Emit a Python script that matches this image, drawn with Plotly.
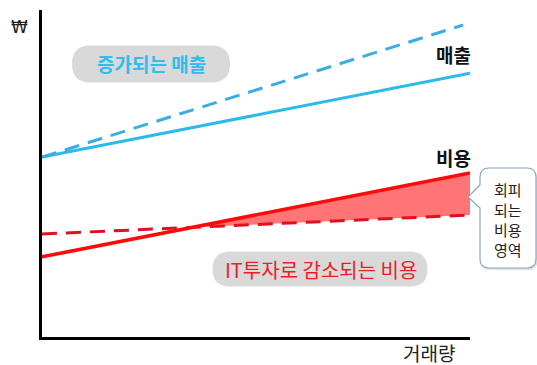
import numpy as np
import plotly.graph_objects as go

# ---- data (conceptual chart, arbitrary units) ----
x_line = [0, 100]
x_rev_it = [0, 98.4]
revenue_base = [55.0, 80.7]      # 매출 (solid)
revenue_it = [55.0, 95.4]        # 증가되는 매출 (dashed)
cost_base = [24.5, 50.2]         # 비용 (solid)
cost_it = [31.5, 37.3]           # IT투자로 감소되는 비용 (dashed)
callout_lines = ["회피", "되는", "비용", "영역"]

FONT = "Noto Sans CJK KR"
CYAN = "#2cbbe9"
CYAN_D = "#3aaee3"
RED = "#ff0a0a"
RED_D = "#e01020"

# intersection of the two cost lines
sb = (cost_base[1] - cost_base[0]) / (x_line[1] - x_line[0])
si = (cost_it[1] - cost_it[0]) / (x_line[1] - x_line[0])
xi = (cost_it[0] - cost_base[0]) / (sb - si)
yi = cost_base[0] + sb * xi

fig = go.Figure()
fig.add_trace(go.Scatter(
    x=[xi, x_line[1], x_line[1], xi],
    y=[yi, cost_base[1], cost_it[1], yi],
    fill="toself", fillcolor="#ff7474", line=dict(width=0), mode="lines",
    hoverinfo="skip"))
fig.add_trace(go.Scatter(x=x_line, y=revenue_base, mode="lines",
                         line=dict(color=CYAN, width=3)))
fig.add_trace(go.Scatter(x=x_rev_it, y=revenue_it, mode="lines",
                         line=dict(color=CYAN_D, width=3, dash="15px,9px")))
fig.add_trace(go.Scatter(x=x_line, y=cost_it, mode="lines",
                         line=dict(color=RED_D, width=3, dash="15px,9px")))
fig.add_trace(go.Scatter(x=x_line, y=cost_base, mode="lines",
                         line=dict(color=RED, width=3.5)))

W, H = 537, 365
L, R, T, B = 42, 67, 10, 28
pw, ph = W - L - R, H - T - B


def px(xp):
    return (xp - L) / pw


def py(yp):
    return (H - B - yp) / ph


def rrect(w, h, r):
    x0, x1, y0, y1 = -w / 2, w / 2, -h / 2, h / 2
    return (f"M{x0 + r},{y0} L{x1 - r},{y0} Q{x1},{y0} {x1},{y0 + r} "
            f"L{x1},{y1 - r} Q{x1},{y1} {x1 - r},{y1} L{x0 + r},{y1} "
            f"Q{x0},{y1} {x0},{y1 - r} L{x0},{y0 + r} Q{x0},{y0} {x0 + r},{y0} Z")


shapes = []
# pills
for cx, cy, w, h in [(151, 64, 158, 37), (320, 269, 215, 35)]:
    shapes.append(dict(type="path", xref="paper", yref="paper",
                       xsizemode="pixel", ysizemode="pixel",
                       xanchor=px(cx), yanchor=py(cy), path=rrect(w, h, h / 2),
                       fillcolor="#d9d9d9", line=dict(width=0), layer="below"))

# callout box with pointer (pixel offsets, y upward)
cx, cy = 508, 218
hw, hh, r = 28, 50, 9


def callout(dx=0, dy=0):
    x0, x1, y0, y1 = -hw + dx, hw + dx, -hh + dy, hh + dy
    return (f"M{x0 + r},{y1} L{x1 - r},{y1} Q{x1},{y1} {x1},{y1 - r} "
            f"L{x1},{y0 + r} Q{x1},{y0} {x1 - r},{y0} L{x0 + r},{y0} "
            f"Q{x0},{y0} {x0},{y0 + r} L{x0},{10 + dy} L{-40 + dx},{21 + dy} "
            f"L{x0},{33 + dy} L{x0},{y1 - r} Q{x0},{y1} {x0 + r},{y1} Z")


shapes.append(dict(type="path", xref="paper", yref="paper",
                   xsizemode="pixel", ysizemode="pixel",
                   xanchor=px(cx), yanchor=py(cy), path=callout(1.5, -2),
                   fillcolor="rgba(0,0,0,0.12)", line=dict(width=0)))
shapes.append(dict(type="path", xref="paper", yref="paper",
                   xsizemode="pixel", ysizemode="pixel",
                   xanchor=px(cx), yanchor=py(cy), path=callout(),
                   fillcolor="white", line=dict(color="#8aa6c4", width=1.2)))

ann = [
    dict(x=px(151), y=py(63), text="<b>증가되는 매출</b>", font=dict(size=19, color="#30bdec")),
    dict(x=px(321), y=py(269), text="IT투자로 감소되는 비용", font=dict(size=20, color="#ee1c25")),
    dict(x=px(453), y=py(54), text="<b>매출</b>", font=dict(size=19, color="#111")),
    dict(x=px(453), y=py(157), text="<b>비용</b>", font=dict(size=19, color="#111")),
    dict(x=px(19), y=py(27), text="₩", font=dict(size=17, color="#222", family="DejaVu Sans")),
    dict(x=px(429), y=py(352), text="거래량", font=dict(size=19, color="#222")),
]
for txt, yy in zip(callout_lines, [189.5, 209.5, 229.5, 249.5]):
    ann.append(dict(x=px(508), y=py(yy), text=txt, font=dict(size=15, color="#222")))
for a in ann:
    a.update(xref="paper", yref="paper", showarrow=False, xanchor="center", yanchor="middle")

fig.update_layout(
    width=W, height=H, margin=dict(l=L, r=R, t=T, b=B),
    plot_bgcolor="white", paper_bgcolor="white",
    showlegend=False, shapes=shapes, annotations=ann,
    font=dict(family=FONT),
    xaxis=dict(range=[0, 100], showgrid=False, zeroline=False, showticklabels=False,
               ticks="", showline=True, linecolor="black", linewidth=3),
    yaxis=dict(range=[0, 100], showgrid=False, zeroline=False, showticklabels=False,
               ticks="", showline=True, linecolor="black", linewidth=3),
)
fig.write_html("out.html", config={"displayModeBar": False},
               post_script="document.body.style.margin='0';document.body.style.overflow='hidden';")
